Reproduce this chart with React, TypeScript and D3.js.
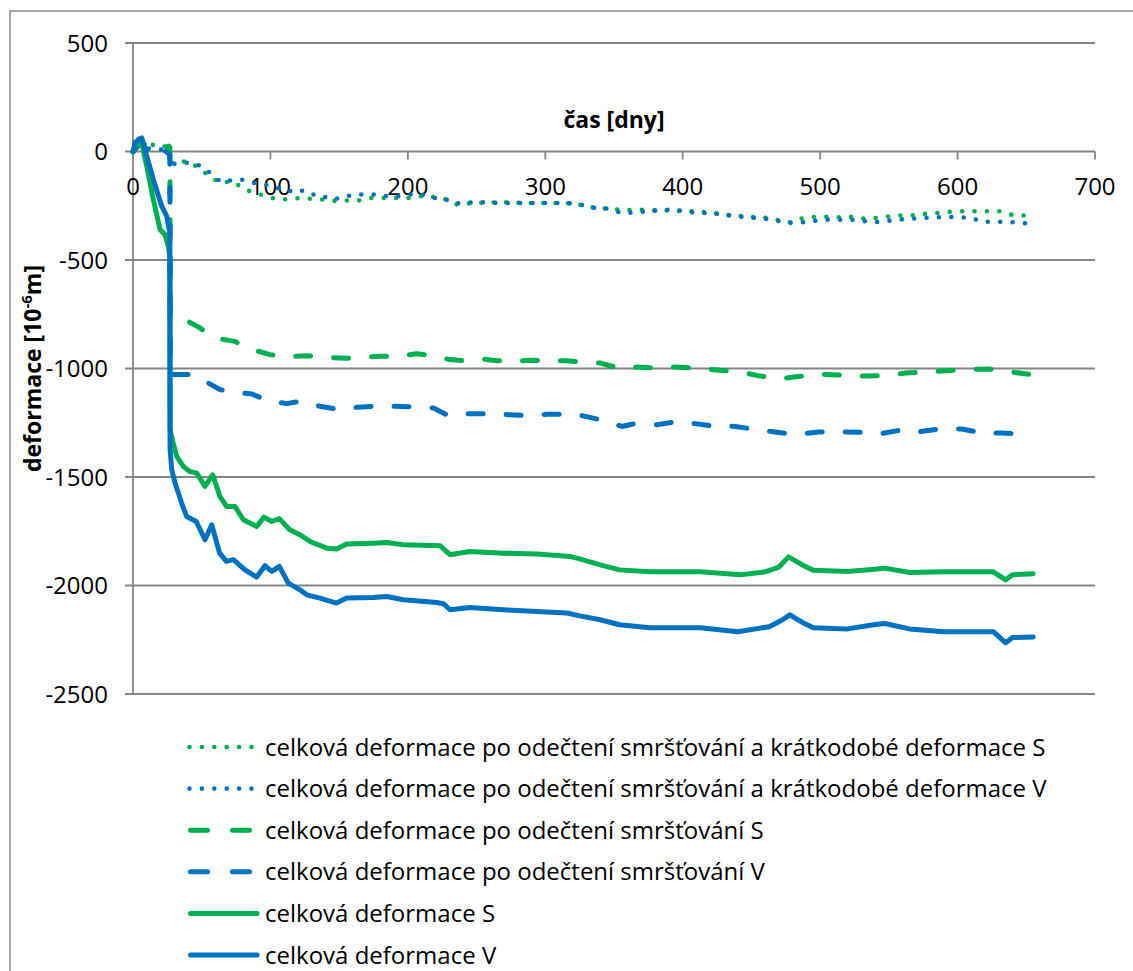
import React from "react";
import * as d3 from "d3";

// [den, deformace] pairs for each measured series
const dottedS: [number, number][] = [
  [0, 0], [0.5, 17], [5, 40], [13.6, 32], [21, 17], [25.7, 32], [26.8, 25], [27, -52], [35.4, -45], [42.7, -52],
  [48.8, -83], [56, -114], [63.3, -145], [71.8, -137], [77.9, -160], [85, -183], [92.4, -198],
  [101, -214], [109.4, -221], [116.7, -214], [125.2, -218], [133.7, -218], [142, -225],
  [149.4, -229], [158, -225], [165, -225], [171, -214], [178.5, -214], [185.8, -214],
  [193, -214], [201.6, -214], [209, -206], [217.4, -209], [224.7, -214], [229.5, -225],
  [235.6, -244], [241.6, -240], [256, -236], [271, -234], [283, -237], [298, -237], [313, -237],
  [320, -240], [328, -248], [336, -260], [345, -263], [359, -271], [367, -267], [375, -271],
  [384, -272], [392, -271], [400, -275], [409, -275], [417, -280], [426, -287], [435, -295],
  [444, -298], [452, -303], [461, -306], [470, -317], [478, -326], [488, -306], [497, -301],
  [506, -301], [515, -303], [525, -301], [532, -310], [541, -306], [551, -298], [560, -294],
  [569, -294], [578, -286], [586, -283], [595, -278], [604, -275], [613, -275], [622, -275],
  [630, -275], [639, -291], [650, -296],
];

const dottedV: [number, number][] = [
  [0, 0], [0.5, 38], [5, 35], [8.7, 17], [14.8, 9], [22, 9], [26.8, -14], [27, -60], [35.4, -52],
  [42.7, -52], [50, -68], [56, -98], [63.3, -137], [67.7, -129], [73, -137], [80.3, -129],
  [87.6, -145], [94.8, -152], [102, -160], [108, -175], [115.5, -183], [121.5, -175],
  [127.6, -198], [136, -198], [143.4, -221], [152, -214], [160.3, -198], [168.9, -198],
  [177.4, -198], [184.7, -206], [194.3, -206], [201.6, -198], [210, -198], [218.6, -214],
  [225.9, -214], [233, -240], [240.4, -237], [247.7, -234], [256.2, -234], [264.7, -237],
  [272, -237], [283, -237], [298, -237], [313, -237], [320, -240], [328, -248], [336, -260],
  [345, -263], [356.7, -286], [365.9, -280], [375, -275], [391.9, -267], [407.5, -280],
  [424.4, -287], [442.5, -301], [459.5, -309], [477.7, -329], [486.8, -326], [503.7, -314],
  [521.9, -314], [540, -326], [557, -314], [575.2, -306], [592, -301], [610.2, -306],
  [618, -324], [635, -324], [654, -333],
];

const dashedS: [number, number][] = [
  [0, 0], [5, 35], [14, 25], [21, 15], [26, 25], [26.8, 20], [27.2, -740], [30.6, -752], [35.4, -767],
  [48.8, -813], [58.5, -859], [74.2, -875], [82.8, -905], [99.7, -936], [110.6, -947],
  [126.4, -941], [141, -949], [155.5, -953], [167.6, -947], [179.8, -944], [192, -944],
  [206.5, -932], [217.4, -941], [230.7, -959], [240.4, -964], [253.8, -956], [264.7, -964],
  [278, -967], [289, -962], [303.5, -964], [314.4, -964], [330, -972], [340, -975],
  [355.7, -1002], [366.6, -993], [381, -998], [393.3, -993], [410, -998], [424.8, -1007],
  [441.8, -1016], [455, -1033], [471, -1047], [485.5, -1036], [501, -1027], [515.8, -1030],
  [531.6, -1035], [546, -1033], [562, -1021], [576.5, -1016], [592, -1010], [606.8, -1004],
  [622.6, -1002], [634.7, -1013], [654, -1028],
];

const dashedV: [number, number][] = [
  [0, 0], [5, 35], [8.7, 17], [14.8, 9], [22, 9], [26.8, -14], [27.2, -1028], [42.7, -1028],
  [52.4, -1059], [63.3, -1097], [73, -1110], [86.4, -1117], [97.3, -1147], [111.9, -1162],
  [121.5, -1151], [136, -1174], [148, -1187], [162.8, -1179], [176, -1174], [190.7, -1174],
  [204, -1177], [218.6, -1182], [229.5, -1217], [245.3, -1208], [257.4, -1208], [273, -1213],
  [284, -1216], [301, -1211], [310.8, -1211], [326.6, -1217], [340, -1236], [355.7, -1267],
  [364, -1256], [381, -1259], [393.3, -1247], [409, -1254], [421, -1264], [438, -1267],
  [451.5, -1279], [468.5, -1294], [481.8, -1304], [498.8, -1293], [512, -1291], [529, -1294],
  [542.5, -1302], [559.5, -1283], [572.8, -1291], [588.6, -1277], [603, -1279], [619, -1299],
  [632, -1297], [649, -1302], [654, -1308],
];

const solidS: [number, number][] = [
  [0, 0], [2, 30], [3.9, 40], [7, 20], [10, -68], [14.8, -221], [19.7, -360], [23.3, -383],
  [25.7, -437], [26.8, -483], [27, -1280], [28, -1313], [31.8, -1405], [36.6, -1451],
  [41, -1474], [46.4, -1482], [52.4, -1543], [58, -1490], [63.3, -1590], [68.2, -1636],
  [74.2, -1636], [80.3, -1697], [90, -1728], [95.3, -1685], [101, -1705], [106.5, -1692],
  [114, -1743], [121.5, -1766], [128.8, -1797], [141, -1828], [148, -1832], [155.5, -1809],
  [175, -1805], [184.6, -1802], [196.7, -1812], [223.5, -1817], [230.7, -1858], [245, -1843],
  [269.5, -1851], [294, -1855], [318, -1866], [325, -1877], [340, -1905], [354, -1928],
  [376, -1937], [413, -1937], [442, -1951], [460, -1937], [470, -1915], [477, -1868],
  [487, -1905], [495, -1930], [520, -1935], [540, -1925], [547, -1920], [565, -1940],
  [590, -1937], [626, -1937], [635, -1974], [640, -1950], [655, -1946],
];

const solidV: [number, number][] = [
  [0, 0], [1.5, 40], [4, 55], [6.3, 63], [8, 30], [10, -22], [14.8, -129], [20.9, -252],
  [24.5, -298], [26.8, -375], [27, -1374], [28.2, -1466], [30.6, -1528], [35.4, -1620],
  [39, -1682], [46, -1705], [52.4, -1789], [57.3, -1720], [63, -1851], [68, -1889],
  [73, -1881], [81.5, -1928], [90, -1961], [96, -1909], [101, -1935], [106.5, -1912],
  [113, -1989], [121.5, -2020], [126.4, -2043], [136, -2058], [148, -2081], [155.5, -2058],
  [175, -2055], [184.6, -2051], [196.7, -2066], [221, -2078], [226, -2084], [230.7, -2112],
  [245, -2101], [269.5, -2112], [294, -2120], [315.6, -2127], [325, -2140], [340, -2158],
  [354, -2181], [376, -2195], [413, -2195], [440, -2213], [463, -2190], [472, -2160],
  [478, -2135], [487, -2170], [495, -2195], [520, -2200], [540, -2180], [547, -2175],
  [565, -2200], [590, -2213], [626, -2213], [635, -2264], [640, -2240], [655, -2237],
];

const xTicks = [0, 100, 200, 300, 400, 500, 600, 700];
const yTicks = [500, 0, -500, -1000, -1500, -2000, -2500];

const GREEN = "#00B050";
const BLUE = "#0070C0";
const GRID = "#868686";
const FONT = "'Open Sans', sans-serif";

type Style = "dot" | "dash" | "solid";

const series: { name: string; data: [number, number][]; color: string; style: Style }[] = [
  { name: "celková deformace po odečtení smršťování a krátkodobé deformace S", data: dottedS, color: GREEN, style: "dot" },
  { name: "celková deformace po odečtení smršťování a krátkodobé deformace V", data: dottedV, color: BLUE, style: "dot" },
  { name: "celková deformace po odečtení smršťování S", data: dashedS, color: GREEN, style: "dash" },
  { name: "celková deformace po odečtení smršťování V", data: dashedV, color: BLUE, style: "dash" },
  { name: "celková deformace S", data: solidS, color: GREEN, style: "solid" },
  { name: "celková deformace V", data: solidV, color: BLUE, style: "solid" },
];

function strokeProps(style: Style, color: string, legend = false) {
  if (style === "dot") {
    return { stroke: color, strokeWidth: 4.6, strokeDasharray: "0 12.4", strokeLinecap: "round" as const };
  }
  if (style === "dash") {
    return {
      stroke: color,
      strokeWidth: 5,
      strokeDasharray: legend ? "17 25" : "15 23",
      strokeLinecap: "round" as const,
    };
  }
  return { stroke: color, strokeWidth: 5, strokeLinecap: "round" as const };
}

export default function App() {
  const W = 1133;
  const H = 971;
  const x = d3.scaleLinear().domain([0, 700]).range([133, 1095]);
  const y = d3.scaleLinear().domain([-2500, 500]).range([694, 43]);
  const line = d3
    .line<[number, number]>()
    .x((d) => x(d[0]))
    .y((d) => y(d[1]));

  const legendTextX = 265;
  const legendY0 = 747;
  const legendStep = 41.6;

  return (
    <svg
      width={W}
      height={H}
      style={{ position: "absolute", left: 0, top: 0, background: "#fff" }}
      fontFamily={FONT}
    >
      <rect x={0} y={0} width={W} height={H} fill="#fff" />
      <rect x={10} y={11} width={W + 50} height={H + 50} fill="none" stroke="#8c8c8c" strokeWidth={1.5} />

      {/* horizontal gridlines with left tick stubs */}
      {yTicks.map((t) => (
        <line key={"g" + t} x1={125} x2={x(700)} y1={y(t)} y2={y(t)} stroke={GRID} strokeWidth={1.8} />
      ))}
      {/* vertical axis */}
      <line x1={x(0)} x2={x(0)} y1={y(500)} y2={y(-2500)} stroke={GRID} strokeWidth={1.8} />
      {/* ticks on the horizontal axis */}
      {xTicks.map((t) => (
        <line key={"xt" + t} x1={x(t)} x2={x(t)} y1={y(0)} y2={y(0) + 8} stroke={GRID} strokeWidth={1.8} />
      ))}

      {/* y tick labels */}
      {yTicks.map((t) => (
        <text key={"yl" + t} x={108} y={y(t)} dy="0.36em" textAnchor="end" fontSize={24} fill="#000">
          {t}
        </text>
      ))}
      {/* x tick labels */}
      {xTicks.map((t) => (
        <text key={"xl" + t} x={x(t)} y={195} textAnchor="middle" fontSize={24} fill="#000">
          {t}
        </text>
      ))}

      {/* axis titles */}
      <text x={(x(0) + x(700)) / 2} y={128} textAnchor="middle" fontSize={23} fontWeight="bold" fill="#000">
        čas [dny]
      </text>
      <text
        transform={`translate(41, ${(y(500) + y(-2500)) / 2}) rotate(-90)`}
        textAnchor="middle"
        fontSize={23}
        fontWeight="bold"
        fill="#000"
      >
        deformace [10
        <tspan fontSize={15} dy={-9}>-6</tspan>
        <tspan dy={9}>m]</tspan>
      </text>

      {/* data series */}
      {series.map((s) => (
        <path key={s.name} d={line(s.data) || ""} fill="none" strokeLinejoin="round" {...strokeProps(s.style, s.color)} />
      ))}

      {/* legend */}
      {series.map((s, i) => {
        const ly = legendY0 + i * legendStep;
        let x1 = 190.5;
        let x2 = 257;
        if (s.style === "dot") {
          x1 = 189.5;
          x2 = 252;
        } else if (s.style === "dash") {
          x1 = 190.5;
          x2 = 250;
        }
        return (
          <g key={"lg" + i}>
            <line x1={x1} x2={x2} y1={ly} y2={ly} {...strokeProps(s.style, s.color, true)} />
            <text x={legendTextX} y={ly} dy="0.36em" fontSize={24} fill="#000">
              {s.name}
            </text>
          </g>
        );
      })}
    </svg>
  );
}
